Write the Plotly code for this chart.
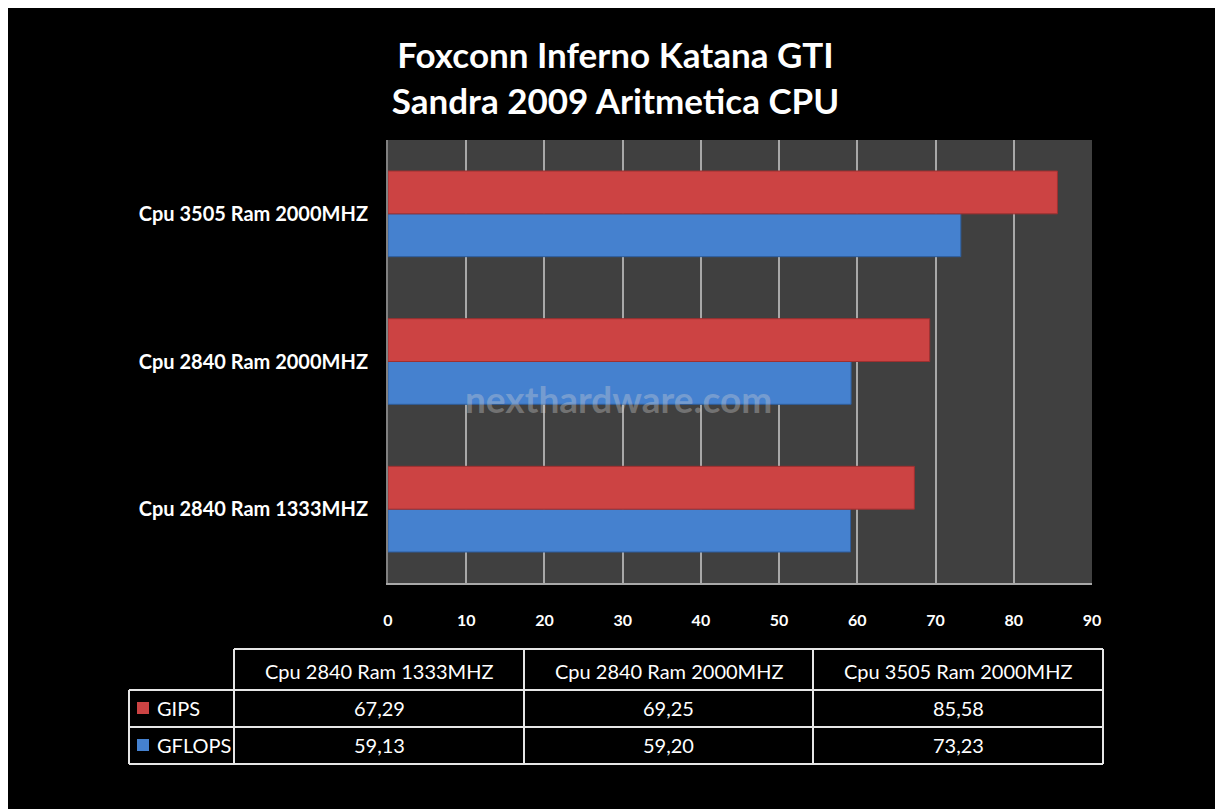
import plotly.graph_objects as go

categories = ["Cpu 2840 Ram 1333MHZ", "Cpu 2840 Ram 2000MHZ", "Cpu 3505 Ram 2000MHZ"]
gips = [67.29, 69.25, 85.58]
gflops = [59.13, 59.20, 73.23]
x_ticks = [0, 10, 20, 30, 40, 50, 60, 70, 80, 90]

RED = "#CC4343"
BLUE = "#4581CF"
FONT = "Lato"

# screen pixel -> paper coordinate helpers (plot area 388..1092 x, 140..583 y)
X0, X1, Y0, Y1 = 388, 1092, 140, 583
def px(X):
    return (X - X0) / (X1 - X0)
def py(Y):
    return (Y1 - Y) / (Y1 - Y0)

fig = go.Figure()
fig.add_trace(go.Bar(y=categories, x=gflops, orientation="h", name="GFLOPS",
                     marker=dict(color=BLUE, line=dict(color="#2E5E9E", width=1))))
fig.add_trace(go.Bar(y=categories, x=gips, orientation="h", name="GIPS",
                     marker=dict(color=RED, line=dict(color="#9E3030", width=1))))

fig.update_layout(
    width=1215, height=801,
    margin=dict(l=X0 - 8, r=1223 - X1, t=Y0 - 8, b=809 - Y1, pad=0),
    paper_bgcolor="black", plot_bgcolor="#404040",
    barmode="group", bargap=0.42, bargroupgap=0,
    showlegend=False,
    title=dict(text="Foxconn Inferno Katana GTI<br>Sandra 2009 Aritmetica CPU",
               x=0.5, xanchor="center", y=1 - (68 - 8) / 801, yanchor="middle",
               font=dict(family=FONT, size=35, color="white", weight="bold")),
    font=dict(family=FONT, color="white"),
)
fig.update_xaxes(range=[0, 90], tickvals=x_ticks, showgrid=True, gridcolor="#A8A8A8",
                 gridwidth=1.5, zeroline=False, showline=True, linecolor="#A8A8A8",
                 linewidth=2, ticks="", ticklabelstandoff=22,
                 tickfont=dict(family=FONT, size=16, color="white", weight="bold"),
                 fixedrange=True)
fig.update_yaxes(showgrid=False, showline=True, linecolor="#808080", linewidth=2,
                 ticks="", ticklabelstandoff=14,
                 tickfont=dict(family=FONT, size=20, color="white", weight="bold"),
                 fixedrange=True)

# watermark
fig.add_annotation(text="nexthardware.com", x=px(618), y=py(398), xref="paper", yref="paper",
                   xanchor="center", yanchor="middle",
                   showarrow=False, font=dict(family=FONT, size=37, color="rgba(210,210,210,0.35)",
                                              weight="bold"))

# data table
LINE = dict(color="#E6E6E6", width=2)
col_x = [129, 234, 524, 813, 1103]
row_y = [649, 690, 727, 764]
shapes = []
shapes.append(dict(type="line", x0=px(234), x1=px(1103), y0=py(649), y1=py(649)))
for Y in row_y[1:]:
    shapes.append(dict(type="line", x0=px(129), x1=px(1103), y0=py(Y), y1=py(Y)))
shapes.append(dict(type="line", x0=px(129), x1=px(129), y0=py(690), y1=py(764)))
for X in col_x[1:]:
    shapes.append(dict(type="line", x0=px(X), x1=px(X), y0=py(649), y1=py(764)))
for s in shapes:
    s.update(xref="paper", yref="paper", line=LINE, layer="above")
    fig.add_shape(**s)

col_centers = [(col_x[i + 1] + col_x[i + 2]) / 2 for i in range(3)]
TF = dict(family=FONT, size=20, color="white")
for cx, cat, g, f in zip(col_centers, categories, gips, gflops):
    for txt, yc in [(cat, 671), (f"{g:.2f}".replace(".", ","), 708),
                    (f"{f:.2f}".replace(".", ","), 745)]:
        fig.add_annotation(text=txt, x=px(cx), y=py(yc), xref="paper", yref="paper",
                           xanchor="center", yanchor="middle", showarrow=False, font=TF)

# legend keys in table
for name, color, yc in [("GIPS", RED, 708), ("GFLOPS", BLUE, 745)]:
    fig.add_shape(type="rect", xref="paper", yref="paper", x0=px(137), x1=px(149),
                  y0=py(yc - 6), y1=py(yc + 6), fillcolor=color, line=dict(width=0))
    fig.add_annotation(text=name, x=px(155), y=py(yc), xref="paper", yref="paper",
                       xanchor="left", yanchor="middle", showarrow=False, font=TF)

fig.write_html("out.html")
